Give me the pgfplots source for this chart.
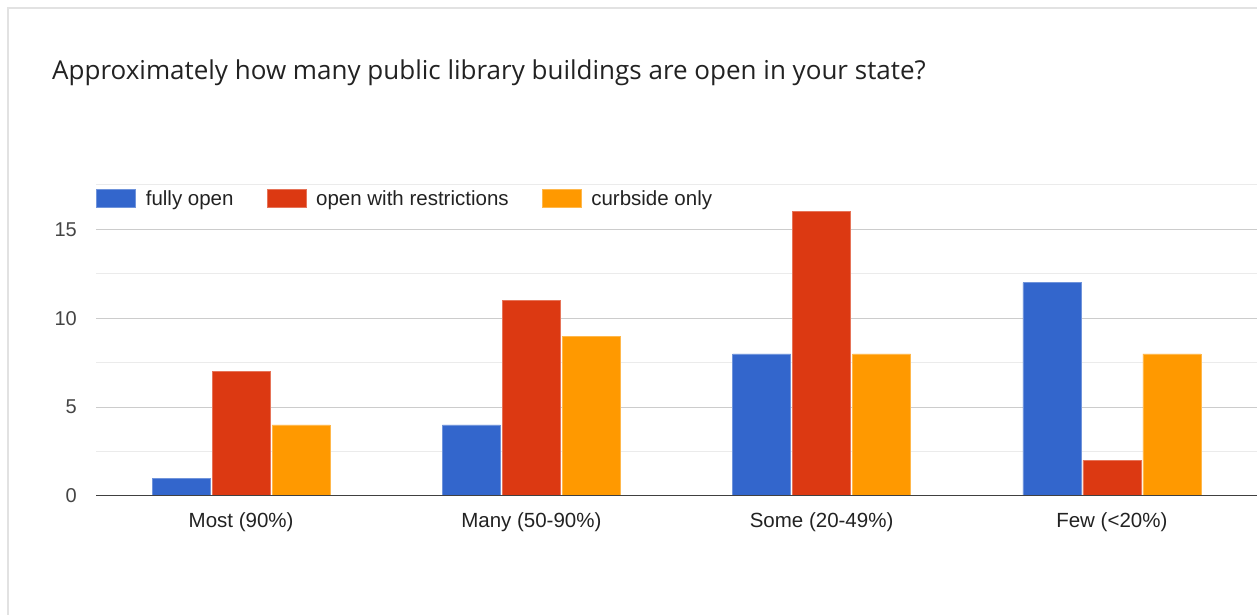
\documentclass[border=0pt]{standalone}
\usepackage{pgfplots}
\pgfplotsset{compat=1.18}
\usepackage{fontspec}
\setmainfont{Liberation Sans}
\newfontfamily\titlefont{Open Sans}
\definecolor{gblue}{HTML}{3366CC}
\definecolor{gred}{HTML}{DC3912}
\definecolor{gorange}{HTML}{FF9900}
\definecolor{gridmaj}{HTML}{CCCCCC}
\definecolor{gridmin}{HTML}{EBEBEB}
\definecolor{txt}{HTML}{222222}
\definecolor{ticktxt}{HTML}{444444}
\begin{document}
\begin{tikzpicture}[x=1pt,y=1pt]
\useasboundingbox (0,0) rectangle (1257,615);
\draw[color=gridmin!70!gridmaj, line width=1.5pt] (8,0) -- (8,607) -- (1257,607);
\node[anchor=base west, inner sep=0pt, font=\titlefont\fontsize{26}{26}\selectfont, text=txt] at (52,535) {Approximately how many public library buildings are open in your state?};
\begin{axis}[
  at={(96pt,119pt)}, anchor=south west,
  scale only axis, width=1161pt, height=311pt,
  xmin=-0.5, xmax=3.5, ymin=0, ymax=17.5,
  ybar=2pt, bar width=58pt,
  axis line style={draw=none},
  tick style={draw=none},
  ytick={0,5,10,15},
  minor ytick={2.5,7.5,12.5,17.5},
  ymajorgrids, yminorgrids,
  major grid style={color=gridmaj, line width=1pt},
  minor grid style={color=gridmin, line width=1pt},
  xtick={0,1,2,3},
  xticklabels={Most (90\%), Many (50-90\%), Some (20-49\%), Few (<20\%)},
  /pgf/number format/assume math mode=true,
  yticklabel style={anchor=east, inner sep=0pt, xshift=-19pt, font=\fontsize{20}{20}\selectfont, text=ticktxt},
  xticklabel style={anchor=north, inner sep=0pt, yshift=-12pt, font=\fontsize{20.5}{20.5}\selectfont, text=txt},
  legend columns=-1,
  legend style={at={(0,1)}, anchor=north west, yshift=-4pt, draw=none, fill=none, inner sep=0pt,
    font=\fontsize{20.5}{20.5}\selectfont, text=txt,
    nodes={inner sep=0pt},
    /tikz/every odd column/.append style={column sep=10pt},
    /tikz/every even column/.append style={column sep=33pt}},
  legend image code/.code={\draw[#1] (0pt,-9pt) rectangle (39pt,9pt);},
]
\addplot[fill=gblue, draw=gblue!70!white, line width=0.6pt] coordinates {(0,1) (1,4) (2,8) (3,12)};
\addplot[fill=gred, draw=gred!70!white, line width=0.6pt] coordinates {(0,7) (1,11) (2,16) (3,2)};
\addplot[fill=gorange, draw=gorange!70!white, line width=0.6pt] coordinates {(0,4) (1,9) (2,8) (3,8)};
\legend{fully open, open with restrictions, curbside only}
\draw[color=black!75, line width=1.5pt] (rel axis cs:0,0) -- (rel axis cs:1,0);
\end{axis}
\end{tikzpicture}
\end{document}
